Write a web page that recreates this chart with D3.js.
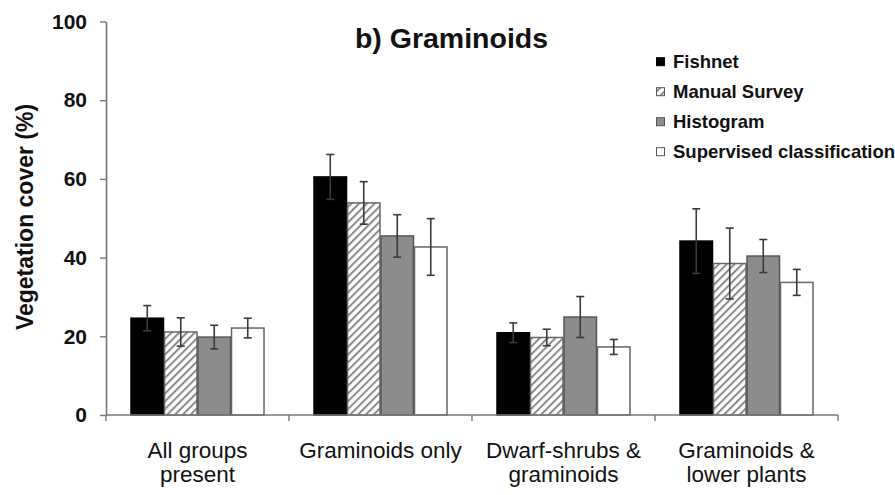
<!DOCTYPE html>
<html>
<head>
<meta charset="utf-8">
<script src="https://cdn.jsdelivr.net/npm/d3@7"></script>
<style>
  html, body { margin: 0; padding: 0; background: #fff; }
  svg { display: block; }
  text { font-family: "Liberation Sans", Arial, sans-serif; fill: #111; }
</style>
</head>
<body>
<svg id="chart" width="895" height="495"></svg>
<script>
// ---- data ----
const categories = [["All groups", "present"], ["Graminoids only"], ["Dwarf-shrubs &", "graminoids"], ["Graminoids &", "lower plants"]];
const seriesNames = ["Fishnet", "Manual Survey", "Histogram", "Supervised classification"];
const fishnet = [24.6, 60.5, 20.9, 44.2];
const fishnetErr = [3.2, 5.7, 2.5, 8.2];
const manualSurvey = [21.1, 53.9, 19.7, 38.5];
const manualSurveyErr = [3.6, 5.4, 2.1, 9.0];
const histogram = [19.8, 45.5, 24.9, 40.4];
const histogramErr = [3.0, 5.4, 5.2, 4.2];
const supervised = [22.1, 42.7, 17.3, 33.7];
const supervisedErr = [2.5, 7.2, 1.9, 3.3];
const yTicks = [0, 20, 40, 60, 80, 100];
const titleText = "b) Graminoids";
const yTitle = "Vegetation cover (%)";

const values = [fishnet, manualSurvey, histogram, supervised];
const errors = [fishnetErr, manualSurveyErr, histogramErr, supervisedErr];

// ---- layout ----
const svg = d3.select("#chart");
const plotLeft = 106, plotRight = 838, plotTop = 21.5, plotBottom = 415;

const defs = svg.append("defs");
const pat = defs.append("pattern")
  .attr("id", "hatch").attr("patternUnits", "userSpaceOnUse")
  .attr("width", 5.5).attr("height", 5.5)
  .attr("patternTransform", "rotate(45)");
pat.append("rect").attr("width", 5.5).attr("height", 5.5).attr("fill", "#fff");
pat.append("line").attr("x1", 1).attr("y1", 0).attr("x2", 1).attr("y2", 5.5)
  .attr("stroke", "#8a8a8a").attr("stroke-width", 2);

const fills = ["#000", "url(#hatch)", "#8c8c8c", "#fff"];
const strokes = ["#000", "#666", "#555", "#666"];

const catKeys = categories.map(c => c.join(" "));
const x0 = d3.scaleBand().domain(catKeys).range([plotLeft, plotRight]).padding(0);
const pad = 24.5;
const x1 = d3.scaleBand().domain(seriesNames).range([pad, x0.bandwidth() - pad]).padding(0);
const y = d3.scaleLinear().domain([0, 100]).range([plotBottom, plotTop]);

// bars
catKeys.forEach((ck, ci) => {
  const g = svg.append("g").attr("transform", `translate(${x0(ck)},0)`);
  seriesNames.forEach((s, si) => {
    const v = values[si][ci];
    g.append("rect")
      .attr("x", x1(s) + 0.5)
      .attr("y", y(v))
      .attr("width", x1.bandwidth() - 1)
      .attr("height", y(0) - y(v))
      .attr("fill", fills[si])
      .attr("stroke", strokes[si])
      .attr("stroke-width", 1.5);
  });
  seriesNames.forEach((s, si) => {
    const v = values[si][ci], e = errors[si][ci];
    const cx = x1(s) + x1.bandwidth() / 2;
    const eg = g.append("g").attr("stroke", "#3a3a3a").attr("stroke-width", 1.6);
    eg.append("line").attr("x1", cx).attr("x2", cx).attr("y1", y(v + e)).attr("y2", y(v - e));
    eg.append("line").attr("x1", cx - 4).attr("x2", cx + 4).attr("y1", y(v + e)).attr("y2", y(v + e));
    eg.append("line").attr("x1", cx - 4).attr("x2", cx + 4).attr("y1", y(v - e)).attr("y2", y(v - e));
  });
});

// y axis
const yAxis = svg.append("g").attr("transform", `translate(${plotLeft},0)`)
  .call(d3.axisLeft(y).tickValues(yTicks).tickSize(6).tickPadding(13).tickSizeOuter(0));
yAxis.select(".domain").attr("stroke", "#777").attr("stroke-width", 1.6);
yAxis.selectAll(".tick line").attr("stroke", "#777").attr("stroke-width", 1.4);
yAxis.selectAll(".tick text")
  .style("font-family", "'Liberation Sans', Arial, sans-serif")
  .style("font-size", "21px").style("font-weight", "bold").attr("fill", "#111");

// x axis
const xAxis = svg.append("g").attr("transform", `translate(0,${plotBottom})`);
xAxis.append("line").attr("x1", plotLeft).attr("x2", plotRight).attr("y1", 0).attr("y2", 0)
  .attr("stroke", "#777").attr("stroke-width", 1.6);
const boundaries = catKeys.map(k => x0(k)).concat([x0(catKeys[catKeys.length - 1]) + x0.bandwidth()]);
boundaries.forEach(bx => {
  xAxis.append("line").attr("x1", bx).attr("x2", bx).attr("y1", 0).attr("y2", 6)
    .attr("stroke", "#777").attr("stroke-width", 1.4);
});
categories.forEach((lines, ci) => {
  const cx = x0(catKeys[ci]) + x0.bandwidth() / 2;
  lines.forEach((ln, li) => {
    xAxis.append("text").attr("x", cx).attr("y", 43 + li * 23.5)
      .attr("text-anchor", "middle")
      .style("font-size", "22.5px")
      .text(ln);
  });
});

// y title
svg.append("text")
  .attr("transform", "translate(33,217) rotate(-90)")
  .attr("text-anchor", "middle")
  .style("font-size", "23px").style("font-weight", "bold")
  .text(yTitle);

// title
svg.append("text").attr("x", 451.5).attr("y", 47.5).attr("text-anchor", "middle")
  .style("font-size", "28.5px").style("font-weight", "bold")
  .text(titleText);

// legend
const lg = svg.append("g");
seriesNames.forEach((s, si) => {
  const cy = 61.7 + si * 30;
  lg.append("rect").attr("x", 656.5).attr("y", cy - 4).attr("width", 8).attr("height", 8)
    .attr("fill", fills[si]).attr("stroke", si === 0 ? "#000" : "#555").attr("stroke-width", 1);
  lg.append("text").attr("x", 673).attr("y", cy).attr("dy", "0.36em")
    .style("font-size", "18.5px").style("font-weight", "bold")
    .text(s);
});
</script>
</body>
</html>
